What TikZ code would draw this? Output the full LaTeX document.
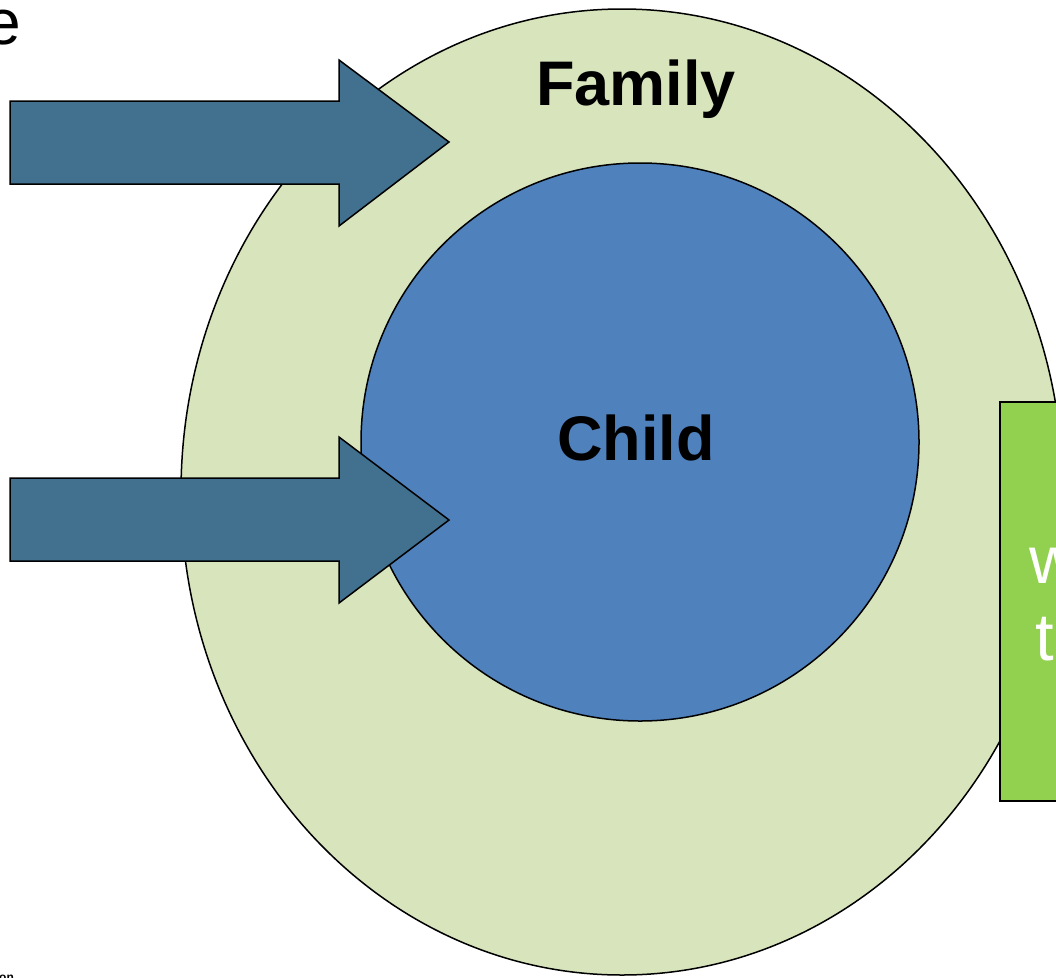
\documentclass[tikz,border=0pt]{standalone}
\usepackage{fontspec}
\usetikzlibrary{shapes.geometric}
\setmainfont{Liberation Sans}
\definecolor{famfill}{HTML}{D8E4BC}
\definecolor{childfill}{HTML}{4F81BD}
\definecolor{arrowfill}{HTML}{41718F}
\definecolor{boxfill}{HTML}{92D050}
\tikzset{
  outl/.style={draw=black, line width=1.5pt},
  bigarrow/.style={outl, fill=arrowfill, line join=miter},
  lbl/.style={font=\fontsize{63}{70}\selectfont\bfseries, text=black, inner sep=0pt},
}
\begin{document}
\begin{tikzpicture}[x=1pt,y=-1pt]
\useasboundingbox (0,0) rectangle (1056,977);
\clip (0,0) rectangle (1056,977);
% family ellipse
\node[outl, fill=famfill, ellipse, minimum width=882, minimum height=966, inner sep=0pt] (fam) at (622,492) {};
% child circle
\node[outl, fill=childfill, circle, minimum size=558, inner sep=0pt] (child) at (640,442) {};
\node[lbl] (famlbl) at (636,89) {Family};
\node[lbl] (childlbl) at (636,438) {Child};
% arrows
\draw[bigarrow] (10,101) -- (339,101) -- (339,60) -- (449,142) -- (339,226) -- (339,184) -- (10,184) -- cycle;
\draw[bigarrow] (10,478) -- (339,478) -- (339,437) -- (449,520) -- (339,603) -- (339,561) -- (10,561) -- cycle;
% green box
\draw[outl, fill=boxfill] (1000,402) rectangle (1100,801);
\node[font=\fontsize{67}{80}\selectfont, text=white, anchor=base west, inner sep=0pt] (w) at (1029,583) {w};
\node[font=\fontsize{67}{80}\selectfont, text=white, anchor=base west, inner sep=0pt] (t) at (1035,660) {t};
% cut texts
\node[font=\fontsize{64}{70}\selectfont, anchor=base east, inner sep=0pt] (e) at (21,44) {e};
\node[font=\fontsize{12}{14}\selectfont\bfseries, anchor=base west, inner sep=0pt] (on) at (-1,981) {on};
\end{tikzpicture}
\end{document}
